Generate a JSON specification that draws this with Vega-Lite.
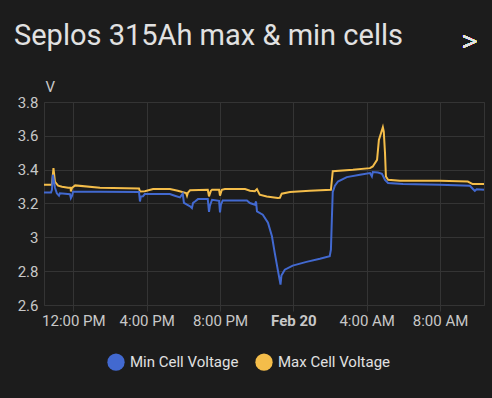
{
  "$schema": "https://vega.github.io/schema/vega-lite/v6.json",
  "autosize": "none",
  "width": 440,
  "height": 203,
  "padding": {"left": 44, "top": 102, "right": 8, "bottom": 93},
  "background": "#1c1c1c",
  "title": {
    "text": "Seplos 315Ah max & min cells",
    "anchor": "start",
    "frame": "group",
    "dx": -30,
    "offset": -24,
    "font": "Roboto",
    "fontSize": 29,
    "fontWeight": "normal",
    "color": "#e1e1e1"
  },
  "config": {
    "view": {"stroke": "#343434"},
    "font": "Roboto",
    "axis": {
      "labelFont": "Roboto",
      "labelFontSize": 15,
      "labelColor": "#c8c8c8",
      "gridColor": "#343434",
      "tickColor": "#343434",
      "domain": false,
      "labelOverlap": false
    },
    "legend": {
      "labelFont": "Roboto",
      "labelFontSize": 15,
      "labelColor": "#e1e1e1"
    }
  },
  "data": {
    "values": [
      {"t": "2024-02-19T10:24:00Z", "v": 3.311, "s": "Max Cell Voltage"},
      {"t": "2024-02-19T10:50:00Z", "v": 3.311, "s": "Max Cell Voltage"},
      {"t": "2024-02-19T10:55:00Z", "v": 3.409, "s": "Max Cell Voltage"},
      {"t": "2024-02-19T11:00:00Z", "v": 3.328, "s": "Max Cell Voltage"},
      {"t": "2024-02-19T11:10:00Z", "v": 3.305, "s": "Max Cell Voltage"},
      {"t": "2024-02-19T11:23:00Z", "v": 3.299, "s": "Max Cell Voltage"},
      {"t": "2024-02-19T11:43:00Z", "v": 3.293, "s": "Max Cell Voltage"},
      {"t": "2024-02-19T11:51:00Z", "v": 3.293, "s": "Max Cell Voltage"},
      {"t": "2024-02-19T11:52:00Z", "v": 3.271, "s": "Max Cell Voltage"},
      {"t": "2024-02-19T11:56:00Z", "v": 3.293, "s": "Max Cell Voltage"},
      {"t": "2024-02-19T12:06:00Z", "v": 3.307, "s": "Max Cell Voltage"},
      {"t": "2024-02-19T13:27:00Z", "v": 3.293, "s": "Max Cell Voltage"},
      {"t": "2024-02-19T15:35:00Z", "v": 3.289, "s": "Max Cell Voltage"},
      {"t": "2024-02-19T15:38:00Z", "v": 3.271, "s": "Max Cell Voltage"},
      {"t": "2024-02-19T15:54:00Z", "v": 3.272, "s": "Max Cell Voltage"},
      {"t": "2024-02-19T16:21:00Z", "v": 3.285, "s": "Max Cell Voltage"},
      {"t": "2024-02-19T17:16:00Z", "v": 3.285, "s": "Max Cell Voltage"},
      {"t": "2024-02-19T17:42:00Z", "v": 3.275, "s": "Max Cell Voltage"},
      {"t": "2024-02-19T18:09:00Z", "v": 3.262, "s": "Max Cell Voltage"},
      {"t": "2024-02-19T18:12:00Z", "v": 3.246, "s": "Max Cell Voltage"},
      {"t": "2024-02-19T18:15:00Z", "v": 3.264, "s": "Max Cell Voltage"},
      {"t": "2024-02-19T18:22:00Z", "v": 3.278, "s": "Max Cell Voltage"},
      {"t": "2024-02-19T19:20:00Z", "v": 3.281, "s": "Max Cell Voltage"},
      {"t": "2024-02-19T19:24:00Z", "v": 3.242, "s": "Max Cell Voltage"},
      {"t": "2024-02-19T19:30:00Z", "v": 3.275, "s": "Max Cell Voltage"},
      {"t": "2024-02-19T19:34:00Z", "v": 3.281, "s": "Max Cell Voltage"},
      {"t": "2024-02-19T19:57:00Z", "v": 3.281, "s": "Max Cell Voltage"},
      {"t": "2024-02-19T20:00:00Z", "v": 3.246, "s": "Max Cell Voltage"},
      {"t": "2024-02-19T20:06:00Z", "v": 3.281, "s": "Max Cell Voltage"},
      {"t": "2024-02-19T20:16:00Z", "v": 3.285, "s": "Max Cell Voltage"},
      {"t": "2024-02-19T21:22:00Z", "v": 3.285, "s": "Max Cell Voltage"},
      {"t": "2024-02-19T21:38:00Z", "v": 3.275, "s": "Max Cell Voltage"},
      {"t": "2024-02-19T21:54:00Z", "v": 3.272, "s": "Max Cell Voltage"},
      {"t": "2024-02-19T22:01:00Z", "v": 3.285, "s": "Max Cell Voltage"},
      {"t": "2024-02-19T22:10:00Z", "v": 3.252, "s": "Max Cell Voltage"},
      {"t": "2024-02-19T22:33:00Z", "v": 3.242, "s": "Max Cell Voltage"},
      {"t": "2024-02-19T23:09:00Z", "v": 3.232, "s": "Max Cell Voltage"},
      {"t": "2024-02-19T23:16:00Z", "v": 3.234, "s": "Max Cell Voltage"},
      {"t": "2024-02-19T23:22:00Z", "v": 3.258, "s": "Max Cell Voltage"},
      {"t": "2024-02-19T23:49:00Z", "v": 3.268, "s": "Max Cell Voltage"},
      {"t": "2024-02-20T00:54:00Z", "v": 3.275, "s": "Max Cell Voltage"},
      {"t": "2024-02-20T02:03:00Z", "v": 3.281, "s": "Max Cell Voltage"},
      {"t": "2024-02-20T02:09:00Z", "v": 3.391, "s": "Max Cell Voltage"},
      {"t": "2024-02-20T03:15:00Z", "v": 3.399, "s": "Max Cell Voltage"},
      {"t": "2024-02-20T04:11:00Z", "v": 3.409, "s": "Max Cell Voltage"},
      {"t": "2024-02-20T04:20:00Z", "v": 3.419, "s": "Max Cell Voltage"},
      {"t": "2024-02-20T04:34:00Z", "v": 3.458, "s": "Max Cell Voltage"},
      {"t": "2024-02-20T04:40:00Z", "v": 3.576, "s": "Max Cell Voltage"},
      {"t": "2024-02-20T04:53:00Z", "v": 3.651, "s": "Max Cell Voltage"},
      {"t": "2024-02-20T04:56:00Z", "v": 3.625, "s": "Max Cell Voltage"},
      {"t": "2024-02-20T05:00:00Z", "v": 3.499, "s": "Max Cell Voltage"},
      {"t": "2024-02-20T05:03:00Z", "v": 3.360, "s": "Max Cell Voltage"},
      {"t": "2024-02-20T05:10:00Z", "v": 3.340, "s": "Max Cell Voltage"},
      {"t": "2024-02-20T05:49:00Z", "v": 3.334, "s": "Max Cell Voltage"},
      {"t": "2024-02-20T08:00:00Z", "v": 3.334, "s": "Max Cell Voltage"},
      {"t": "2024-02-20T09:31:00Z", "v": 3.330, "s": "Max Cell Voltage"},
      {"t": "2024-02-20T09:47:00Z", "v": 3.315, "s": "Max Cell Voltage"},
      {"t": "2024-02-20T10:24:00Z", "v": 3.315, "s": "Max Cell Voltage"},

      {"t": "2024-02-19T10:24:00Z", "v": 3.265, "s": "Min Cell Voltage"},
      {"t": "2024-02-19T10:47:00Z", "v": 3.265, "s": "Min Cell Voltage"},
      {"t": "2024-02-19T10:50:00Z", "v": 3.281, "s": "Min Cell Voltage"},
      {"t": "2024-02-19T10:53:00Z", "v": 3.370, "s": "Min Cell Voltage"},
      {"t": "2024-02-19T10:57:00Z", "v": 3.328, "s": "Min Cell Voltage"},
      {"t": "2024-02-19T11:00:00Z", "v": 3.293, "s": "Min Cell Voltage"},
      {"t": "2024-02-19T11:06:00Z", "v": 3.260, "s": "Min Cell Voltage"},
      {"t": "2024-02-19T11:13:00Z", "v": 3.246, "s": "Min Cell Voltage"},
      {"t": "2024-02-19T11:16:00Z", "v": 3.260, "s": "Min Cell Voltage"},
      {"t": "2024-02-19T11:33:00Z", "v": 3.258, "s": "Min Cell Voltage"},
      {"t": "2024-02-19T11:49:00Z", "v": 3.255, "s": "Min Cell Voltage"},
      {"t": "2024-02-19T11:52:00Z", "v": 3.232, "s": "Min Cell Voltage"},
      {"t": "2024-02-19T11:56:00Z", "v": 3.246, "s": "Min Cell Voltage"},
      {"t": "2024-02-19T11:59:00Z", "v": 3.269, "s": "Min Cell Voltage"},
      {"t": "2024-02-19T13:27:00Z", "v": 3.269, "s": "Min Cell Voltage"},
      {"t": "2024-02-19T15:35:00Z", "v": 3.268, "s": "Min Cell Voltage"},
      {"t": "2024-02-19T15:38:00Z", "v": 3.212, "s": "Min Cell Voltage"},
      {"t": "2024-02-19T15:41:00Z", "v": 3.242, "s": "Min Cell Voltage"},
      {"t": "2024-02-19T15:48:00Z", "v": 3.243, "s": "Min Cell Voltage"},
      {"t": "2024-02-19T15:54:00Z", "v": 3.256, "s": "Min Cell Voltage"},
      {"t": "2024-02-19T17:16:00Z", "v": 3.256, "s": "Min Cell Voltage"},
      {"t": "2024-02-19T17:32:00Z", "v": 3.246, "s": "Min Cell Voltage"},
      {"t": "2024-02-19T17:49:00Z", "v": 3.236, "s": "Min Cell Voltage"},
      {"t": "2024-02-19T17:58:00Z", "v": 3.258, "s": "Min Cell Voltage"},
      {"t": "2024-02-19T18:02:00Z", "v": 3.204, "s": "Min Cell Voltage"},
      {"t": "2024-02-19T18:12:00Z", "v": 3.193, "s": "Min Cell Voltage"},
      {"t": "2024-02-19T18:22:00Z", "v": 3.183, "s": "Min Cell Voltage"},
      {"t": "2024-02-19T18:28:00Z", "v": 3.173, "s": "Min Cell Voltage"},
      {"t": "2024-02-19T18:32:00Z", "v": 3.204, "s": "Min Cell Voltage"},
      {"t": "2024-02-19T18:38:00Z", "v": 3.212, "s": "Min Cell Voltage"},
      {"t": "2024-02-19T18:48:00Z", "v": 3.226, "s": "Min Cell Voltage"},
      {"t": "2024-02-19T19:20:00Z", "v": 3.226, "s": "Min Cell Voltage"},
      {"t": "2024-02-19T19:24:00Z", "v": 3.151, "s": "Min Cell Voltage"},
      {"t": "2024-02-19T19:27:00Z", "v": 3.187, "s": "Min Cell Voltage"},
      {"t": "2024-02-19T19:34:00Z", "v": 3.222, "s": "Min Cell Voltage"},
      {"t": "2024-02-19T19:57:00Z", "v": 3.216, "s": "Min Cell Voltage"},
      {"t": "2024-02-19T20:00:00Z", "v": 3.147, "s": "Min Cell Voltage"},
      {"t": "2024-02-19T20:03:00Z", "v": 3.193, "s": "Min Cell Voltage"},
      {"t": "2024-02-19T20:09:00Z", "v": 3.218, "s": "Min Cell Voltage"},
      {"t": "2024-02-19T21:28:00Z", "v": 3.218, "s": "Min Cell Voltage"},
      {"t": "2024-02-19T21:38:00Z", "v": 3.203, "s": "Min Cell Voltage"},
      {"t": "2024-02-19T21:54:00Z", "v": 3.193, "s": "Min Cell Voltage"},
      {"t": "2024-02-19T21:58:00Z", "v": 3.212, "s": "Min Cell Voltage"},
      {"t": "2024-02-19T22:01:00Z", "v": 3.153, "s": "Min Cell Voltage"},
      {"t": "2024-02-19T22:20:00Z", "v": 3.134, "s": "Min Cell Voltage"},
      {"t": "2024-02-19T22:37:00Z", "v": 3.087, "s": "Min Cell Voltage"},
      {"t": "2024-02-19T22:50:00Z", "v": 3.006, "s": "Min Cell Voltage"},
      {"t": "2024-02-19T22:59:00Z", "v": 2.910, "s": "Min Cell Voltage"},
      {"t": "2024-02-19T23:09:00Z", "v": 2.809, "s": "Min Cell Voltage"},
      {"t": "2024-02-19T23:18:00Z", "v": 2.721, "s": "Min Cell Voltage"},
      {"t": "2024-02-19T23:21:00Z", "v": 2.774, "s": "Min Cell Voltage"},
      {"t": "2024-02-19T23:32:00Z", "v": 2.809, "s": "Min Cell Voltage"},
      {"t": "2024-02-19T23:58:00Z", "v": 2.833, "s": "Min Cell Voltage"},
      {"t": "2024-02-20T00:43:00Z", "v": 2.855, "s": "Min Cell Voltage"},
      {"t": "2024-02-20T01:27:00Z", "v": 2.873, "s": "Min Cell Voltage"},
      {"t": "2024-02-20T01:59:00Z", "v": 2.888, "s": "Min Cell Voltage"},
      {"t": "2024-02-20T02:03:00Z", "v": 2.927, "s": "Min Cell Voltage"},
      {"t": "2024-02-20T02:06:00Z", "v": 3.104, "s": "Min Cell Voltage"},
      {"t": "2024-02-20T02:09:00Z", "v": 3.269, "s": "Min Cell Voltage"},
      {"t": "2024-02-20T02:16:00Z", "v": 3.305, "s": "Min Cell Voltage"},
      {"t": "2024-02-20T02:26:00Z", "v": 3.330, "s": "Min Cell Voltage"},
      {"t": "2024-02-20T02:55:00Z", "v": 3.356, "s": "Min Cell Voltage"},
      {"t": "2024-02-20T03:38:00Z", "v": 3.370, "s": "Min Cell Voltage"},
      {"t": "2024-02-20T04:11:00Z", "v": 3.380, "s": "Min Cell Voltage"},
      {"t": "2024-02-20T04:17:00Z", "v": 3.360, "s": "Min Cell Voltage"},
      {"t": "2024-02-20T04:20:00Z", "v": 3.386, "s": "Min Cell Voltage"},
      {"t": "2024-02-20T04:37:00Z", "v": 3.383, "s": "Min Cell Voltage"},
      {"t": "2024-02-20T04:50:00Z", "v": 3.375, "s": "Min Cell Voltage"},
      {"t": "2024-02-20T05:00:00Z", "v": 3.340, "s": "Min Cell Voltage"},
      {"t": "2024-02-20T05:10:00Z", "v": 3.321, "s": "Min Cell Voltage"},
      {"t": "2024-02-20T05:59:00Z", "v": 3.315, "s": "Min Cell Voltage"},
      {"t": "2024-02-20T08:00:00Z", "v": 3.311, "s": "Min Cell Voltage"},
      {"t": "2024-02-20T09:38:00Z", "v": 3.305, "s": "Min Cell Voltage"},
      {"t": "2024-02-20T09:47:00Z", "v": 3.287, "s": "Min Cell Voltage"},
      {"t": "2024-02-20T09:54:00Z", "v": 3.275, "s": "Min Cell Voltage"},
      {"t": "2024-02-20T10:00:00Z", "v": 3.284, "s": "Min Cell Voltage"},
      {"t": "2024-02-20T10:24:00Z", "v": 3.281, "s": "Min Cell Voltage"}
    ]
  },
  "layer": [
    {
      "mark": {"type": "line", "strokeWidth": 2, "interpolate": "linear"},
      "encoding": {
        "x": {
          "field": "t",
          "type": "temporal",
          "scale": {
            "type": "utc",
            "domain": [
              {"year": 2024, "month": 2, "date": 19, "hours": 10, "minutes": 24, "utc": true},
              {"year": 2024, "month": 2, "date": 20, "hours": 10, "minutes": 24, "utc": true}
            ]
          },
          "axis": {
            "title": null,
            "values": [
              {"year": 2024, "month": 2, "date": 19, "hours": 12, "utc": true},
              {"year": 2024, "month": 2, "date": 19, "hours": 16, "utc": true},
              {"year": 2024, "month": 2, "date": 19, "hours": 20, "utc": true},
              {"year": 2024, "month": 2, "date": 20, "hours": 0, "utc": true},
              {"year": 2024, "month": 2, "date": 20, "hours": 4, "utc": true},
              {"year": 2024, "month": 2, "date": 20, "hours": 8, "utc": true}
            ],
            "labelExpr": "utchours(datum.value) == 0 ? utcFormat(datum.value, '%b %-d') : utcFormat(datum.value, '%-I:%M %p')",
            "labelFontWeight": {"condition": {"test": "utchours(datum.value) == 0", "value": "bold"}, "value": "normal"},
            "tickSize": 6,
            "labelPadding": 2,
            "labelFlush": false
          }
        },
        "y": {
          "field": "v",
          "type": "quantitative",
          "scale": {"domain": [2.6, 3.8], "nice": false, "zero": false},
          "axis": {
            "title": "V",
            "titleAngle": 0,
            "titleAlign": "left",
            "titleBaseline": "alphabetic",
            "titleX": 1,
            "titleY": -11,
            "titleFont": "Roboto",
            "titleFontSize": 15,
            "titleFontWeight": "normal",
            "titleColor": "#c8c8c8",
            "values": [2.6, 2.8, 3.0, 3.2, 3.4, 3.6, 3.8],
            "tickCount": 7,
            "format": "~g",
            "ticks": false,
            "labelOverlap": false,
            "labelPadding": 6
          }
        },
        "color": {
          "field": "s",
          "type": "nominal",
          "scale": {"domain": ["Min Cell Voltage", "Max Cell Voltage"], "range": ["#4269d0", "#f4bd4a"]},
          "legend": {
            "title": null,
            "orient": "none",
            "direction": "horizontal",
            "legendX": 63,
            "legendY": 251,
            "padding": 0,
            "symbolType": "circle",
            "symbolSize": 299,
            "symbolStrokeWidth": 0,
            "labelOffset": 5,
            "columnPadding": 16,
            "encode": {
              "symbols": {
                "update": {
                  "fill": {"scale": "color", "field": "value"},
                  "strokeWidth": {"value": 0},
                  "opacity": {"value": 1}
                }
              }
            }
          }
        },
        "order": {"field": "s", "sort": "descending"}
      }
    },
    {
      "mark": {"type": "text", "text": ">", "font": "Roboto", "fontSize": 30, "fontWeight": 300, "color": "#e1e1e1", "baseline": "middle", "align": "center"},
      "encoding": {
        "x": {"datum": {"year": 2024, "month": 2, "date": 20, "hours": 9, "minutes": 37, "utc": true}, "type": "temporal"},
        "y": {
          "datum": 4.157,
          "type": "quantitative",
          "axis": {
            "title": "V",
            "values": [2.6, 2.8, 3.0, 3.2, 3.4, 3.6, 3.8],
            "tickCount": 7,
            "format": "~g",
            "ticks": false,
            "labelOverlap": false
          }
        }
      }
    }
  ]
}
